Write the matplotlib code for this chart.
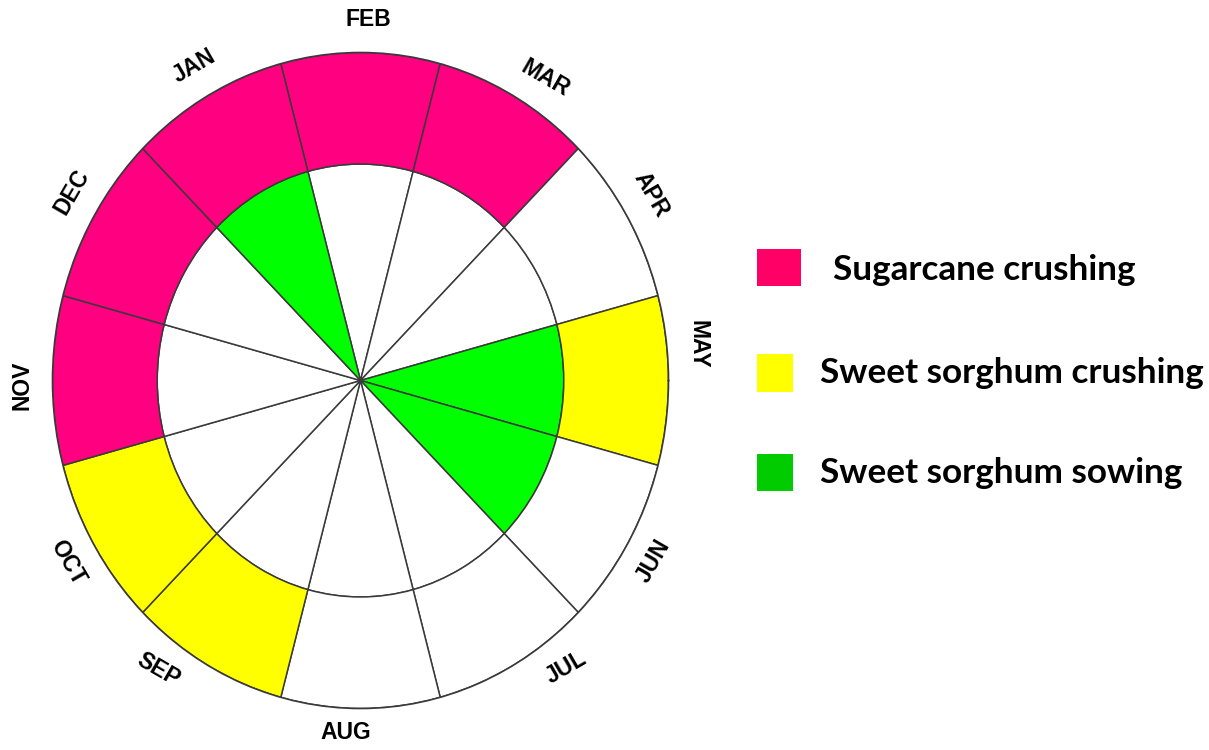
import numpy as np
import matplotlib
matplotlib.use("Agg")
import matplotlib.pyplot as plt
from matplotlib.patches import Rectangle

# ---- data ----
months = ["FEB", "MAR", "APR", "MAY", "JUN", "JUL", "AUG", "SEP", "OCT", "NOV", "DEC", "JAN"]
# sector centre angles in degrees (FEB at top, clockwise)
month_angles = [90, 60, 30, 0, -30, -60, -90, -120, -150, 180, 150, 120]
# activity codes: 0 none, 1 sugarcane crushing, 2 sweet sorghum crushing, 3 sweet sorghum sowing
outer_ring = [1, 1, 0, 2, 0, 0, 0, 2, 2, 1, 1, 1]
inner_ring = [0, 0, 0, 3, 3, 0, 0, 0, 0, 0, 0, 3]
ring_colors = {0: "white", 1: "#FF0080", 2: "#FFFF00", 3: "#00FF00"}

legend_labels = ["Sugarcane crushing", "Sweet sorghum crushing", "Sweet sorghum sowing"]
legend_colors = ["#FF0066", "#FFFF00", "#00CC00"]

# label placement (angle in degrees, radius relative to outer ring) as seen in the original
label_angles = [88.7, 57, 31, 5.7, -30, -52.6, -92.5, -126.6, -149.7, 180.7, 148.4, 119.4]
label_radii = [1.10, 1.10, 1.10, 1.10, 1.10, 1.10, 1.075, 1.10, 1.10, 1.10, 1.10, 1.10]

# ---- figure ----
W, H = 1209, 750
fig = plt.figure(figsize=(W / 100, H / 100), dpi=100)
fig.patch.set_facecolor("white")

cx, cy = 360.5, 380.5
rx, ry = 308, 328
ax = fig.add_axes([(cx - rx) / W, (H - cy - ry) / H, 2 * rx / W, 2 * ry / H], projection="polar")
ax.set_aspect("auto")

theta = np.deg2rad(month_angles)
width = np.deg2rad(30)
r_in = 0.66

edge = "#3a3a3a"
lw = 1.1
ax.bar(theta, [r_in] * 12, width=width, bottom=0,
       color=[ring_colors[c] for c in inner_ring], edgecolor=edge, linewidth=lw, align="center")
ax.bar(theta, [1 - r_in] * 12, width=width, bottom=r_in,
       color=[ring_colors[c] for c in outer_ring], edgecolor=edge, linewidth=lw, align="center")

ax.set_ylim(0, 1)
ax.set_xticks([])
ax.set_yticks([])
ax.grid(False)
ax.spines["polar"].set_edgecolor(edge)
ax.spines["polar"].set_linewidth(1.2)

for name, ang, lang, lr in zip(months, month_angles, label_angles, label_radii):
    rot = ang - 90
    if rot < -90:
        rot += 180
    if rot > 90:
        rot -= 180
    ax.text(np.deg2rad(lang), lr, name, rotation=rot, rotation_mode="anchor",
            ha="center", va="center", fontsize=16.5, fontweight="bold",
            family="Liberation Sans", clip_on=False)

# ---- legend ----
boxes = [(757, 249, 44, 37), (757, 354, 36, 38), (757, 454, 36, 37)]
text_x = [833, 820, 820]
text_y = [270, 373, 473]
for (x, y, w, h), col, lab, tx, ty in zip(boxes, legend_colors, legend_labels, text_x, text_y):
    fig.patches.append(Rectangle((x / W, 1 - (y + h) / H), w / W, h / H,
                                 transform=fig.transFigure, facecolor=col, edgecolor="none"))
    fig.text(tx / W, 1 - ty / H, lab, ha="left", va="center", fontsize=25.3,
             fontweight="bold", family="Lato")

fig.savefig("out.png", dpi=100)
